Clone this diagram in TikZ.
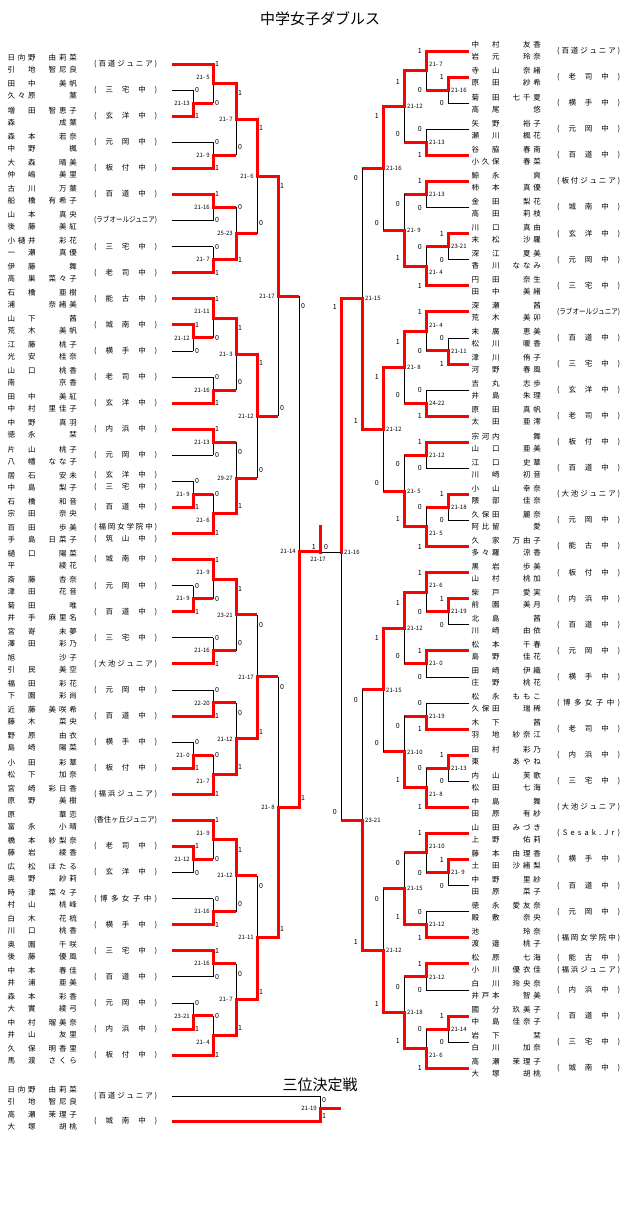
\documentclass[tikz,border=0pt]{standalone}
\usepackage{fontspec}
\setmainfont{Noto Sans CJK JP}
\usepackage{graphicx}

% character slots for the player names
\newcounter{mt}
\newcommand\chslot[1]{\makebox[10.29pt]{#1}}
\def\sprch#1#2{\chslot{#1}\ifx#2\relax\else\hfill\expandafter\sprch\expandafter#2\fi}
\def\sprnat#1#2{#1\ifx#2\relax\else\hfill\expandafter\sprnat\expandafter#2\fi}
\def\fixch#1#2{\chslot{#1}\ifx#2\relax\else\expandafter\fixch\expandafter#2\fi}
\newcommand\pname[2]{\hbox to 72pt{\hbox to 30.86pt{\sprch#1\relax\hfil}\hfil\fixch#2\relax}}
\newcommand\sch[1]{\setbox0\hbox{#1}\ifdim\wd0>63pt\resizebox{63pt}{\height}{#1}\else\hbox to 63pt{\sprnat#1\relax}\fi}

% entry: name, y, line end, style, surname1, given1, surname2, given2, school
\newcommand\lentry[9]{%
  \node[nm,anchor=west] (#1) at (6,#2) {\pname{#5}{#6}\\\pname{#7}{#8}};
  \if\relax\detokenize{#9}\relax\else\node[nm,anchor=west] (#1s) at (94,#2) {\sch{#9}};\fi
  \draw[#4] (172,#2) -- (#3,#2);}
\newcommand\rentry[9]{%
  \node[nm,anchor=west] (#1) at (470,#2) {\pname{#5}{#6}\\\pname{#7}{#8}};
  \if\relax\detokenize{#9}\relax\else\node[nm,anchor=west] (#1s) at (557,#2) {\sch{#9}};\fi
  \draw[#4] (469,#2) -- (#3,#2);}

% match: x, next x, y top, y bottom, winner (t/b), score, label offsets, score offset
\newcommand\lmatch[9]{%
  \stepcounter{mt}%
  \pgfmathsetmacro\ym{(#3+#4)/2}%
  \draw[los] (#1,#3) -- (#1,#4);
  \if#5t\def\labA{1}\def\labB{0}\draw[winv] (#1,#3) -- (#1,\ym);
  \else\def\labA{0}\def\labB{1}\draw[winv] (#1,#4) -- (#1,\ym);\fi
  \draw[win] (#1,\ym) -- (#2,\ym);
  \node[lab,anchor=west] (a\themt) at ({#1+2},{#3+#7}) {\labA};
  \node[lab,anchor=west] (b\themt) at ({#1+2},{#4-#8}) {\labB};
  \node[sc,anchor=east] (s\themt) at ({#1-3},{\ym+(#9)}) {#6};}
\newcommand\rmatch[9]{%
  \stepcounter{mt}%
  \pgfmathsetmacro\ym{(#3+#4)/2}%
  \draw[los] (#1,#3) -- (#1,#4);
  \if#5t\def\labA{1}\def\labB{0}\draw[winv] (#1,#3) -- (#1,\ym);
  \else\def\labA{0}\def\labB{1}\draw[winv] (#1,#4) -- (#1,\ym);\fi
  \draw[win] (#1,\ym) -- (#2,\ym);
  \node[lab,anchor=east] (a\themt) at ({#1-4},{#3+#7}) {\labA};
  \node[lab,anchor=east] (b\themt) at ({#1-4},{#4-#8}) {\labB};
  \node[sc,anchor=west] (s\themt) at ({#1+3},{\ym+(#9)}) {#6};}

\tikzset{
  win/.style={draw=red,line width=3pt},
  winv/.style={win,line cap=rect},
  los/.style={draw=black,line width=0.8pt},
  nm/.style={inner sep=0,align=left,font=\fontsize{7.5}{12}\selectfont},
  lab/.style={inner sep=0,font=\fontsize{7}{7}\selectfont},
  sc/.style={inner sep=0,font=\fontsize{6}{6}\selectfont},
  ttl/.style={inner sep=0,font=\fontsize{15}{15}\selectfont}
}

\begin{document}
\begin{tikzpicture}[x=1pt,y=-1pt]
\fill[white] (0,0) rectangle (640,1205);
\useasboundingbox (0,0) rectangle (640,1205);

\node[ttl] (title) at (320,19) {中学女子ダブルス};
\node[ttl] (third) at (320,1085) {三位決定戦};

% Left block entries
\lentry{L1}{64.0}{213}{win}{日向野}{由莉菜}{引地}{智尼良}{(百道ジュニア)}
\lentry{L2}{90.1}{193}{los}{田中}{美帆}{久々原}{葉}{(三宅中)}
\lentry{L3}{116.2}{193}{win}{増田}{智恵子}{森}{成葉}{(玄洋中)}
\lentry{L4}{142.2}{213}{los}{森本}{若奈}{中野}{楓}{(元岡中)}
\lentry{L5}{168.3}{213}{win}{大森}{晴美}{仲嶋}{美里}{(板付中)}
\lentry{L6}{194.4}{213}{win}{古川}{万葉}{船橋}{有希子}{(百道中)}
\lentry{L7}{220.5}{213}{los}{山本}{真央}{後藤}{美紅}{(ラブオールジュニア)}
\lentry{L8}{246.6}{213}{los}{小樋井}{彩花}{一瀬}{真優}{(三宅中)}
\lentry{L9}{272.6}{213}{win}{伊藤}{舞}{高巣}{菜々子}{(老司中)}
\lentry{L10}{298.7}{213}{win}{石橋}{亜樹}{浦}{奈緒美}{(能古中)}
\lentry{L11}{324.8}{193}{win}{山下}{茜}{荒木}{美帆}{(城南中)}
\lentry{L12}{350.9}{193}{los}{江藤}{桃子}{光安}{桂奈}{(横手中)}
\lentry{L13}{377.0}{213}{los}{山口}{桃香}{南}{京香}{(老司中)}
\lentry{L14}{403.0}{213}{win}{田中}{美紅}{中村}{里佳子}{(玄洋中)}
\lentry{L15}{429.1}{213}{win}{中野}{真羽}{徳永}{栞}{(内浜中)}
\lentry{L16}{455.2}{213}{los}{片山}{桃子}{八幡}{なな子}{(元岡中)}
\lentry{L17}{481.3}{193}{los}{居石}{安未}{中島}{梨子}{}
\node[nm,anchor=west] (L17s) at (94,481.3) {\sch{(玄洋中)}\\\sch{(三宅中)}};
\lentry{L18}{507.4}{193}{win}{石橋}{和音}{宗田}{奈央}{(百道中)}
\lentry{L19}{533.4}{213}{win}{百田}{歩美}{手島}{日菜子}{}
\node[nm,anchor=west] (L19s) at (94,533.4) {\sch{(福岡女学院中)}\\\sch{(筑山中)}};
\lentry{L20}{559.5}{213}{win}{樋口}{陽菜}{平}{綾花}{(城南中)}
\lentry{L21}{585.6}{193}{los}{斎藤}{杏奈}{津田}{花音}{(元岡中)}
\lentry{L22}{611.7}{193}{win}{菊田}{唯}{井手}{麻里名}{(百道中)}
\lentry{L23}{637.8}{213}{los}{宮嵜}{未夢}{澤田}{彩乃}{(三宅中)}
\lentry{L24}{663.8}{213}{win}{旭}{沙子}{引民}{美空}{(大池ジュニア)}
\lentry{L25}{689.9}{213}{los}{福田}{彩花}{下園}{彩尚}{(元岡中)}
\lentry{L26}{716.0}{213}{win}{近藤}{美咲希}{藤木}{菜央}{(百道中)}
\lentry{L27}{742.1}{193}{los}{野原}{由衣}{島崎}{陽菜}{(横手中)}
\lentry{L28}{768.2}{193}{win}{小田}{彩華}{松下}{加奈}{(板付中)}
\lentry{L29}{794.2}{213}{win}{宮崎}{彩日香}{原野}{美樹}{(福浜ジュニア)}
\lentry{L30}{820.3}{213}{win}{原}{華恋}{富永}{小晴}{(香住ヶ丘ジュニア)}
\lentry{L31}{846.4}{193}{win}{橋本}{紗梨奈}{藤岩}{綾香}{(老司中)}
\lentry{L32}{872.5}{193}{los}{広松}{ほたる}{奥野}{紗莉}{(玄洋中)}
\lentry{L33}{898.6}{213}{los}{時津}{菜々子}{村山}{桃峰}{(博多女子中)}
\lentry{L34}{924.6}{213}{win}{白木}{花梳}{川口}{桃香}{(横手中)}
\lentry{L35}{950.7}{213}{win}{奥園}{千咲}{後藤}{優風}{(三宅中)}
\lentry{L36}{976.8}{213}{los}{中本}{春佳}{井浦}{亜美}{(百道中)}
\lentry{L37}{1002.9}{193}{los}{森本}{彩香}{大實}{綾弓}{(元岡中)}
\lentry{L38}{1029.0}{193}{win}{中村}{瑠美奈}{井山}{友里}{(内浜中)}
\lentry{L39}{1055.0}{213}{win}{久保}{明香里}{馬渡}{さくら}{(板付中)}

% Right block entries
\rentry{R1}{51.0}{426}{win}{中村}{友香}{岩元}{玲奈}{(百道ジュニア)}
\rentry{R2}{77.1}{448}{win}{寺山}{奈緒}{原田}{紗希}{(老司中)}
\rentry{R3}{103.2}{448}{los}{菊田}{七千夏}{高尾}{悠}{(横手中)}
\rentry{R4}{129.2}{426}{los}{矢野}{裕子}{瀬川}{楓花}{(元岡中)}
\rentry{R5}{155.3}{426}{win}{谷脇}{春南}{小久保}{春菜}{(百道中)}
\rentry{R6}{181.4}{426}{win}{鯨永}{爽}{柿本}{真優}{(板付ジュニア)}
\rentry{R7}{207.5}{426}{los}{金田}{梨花}{高田}{莉枝}{(城南中)}
\rentry{R8}{233.6}{448}{win}{川口}{真由}{末松}{沙羅}{(玄洋中)}
\rentry{R9}{259.6}{448}{los}{深江}{夏美}{香川}{ななみ}{(元岡中)}
\rentry{R10}{285.7}{426}{win}{円田}{奈生}{田中}{美緒}{(三宅中)}
\rentry{R11}{311.8}{426}{win}{深瀬}{茜}{荒木}{美卯}{(ラブオールジュニア)}
\rentry{R12}{337.9}{448}{los}{末廣}{恵美}{松川}{暖香}{(百道中)}
\rentry{R13}{364.0}{448}{win}{津川}{侑子}{河野}{春風}{(三宅中)}
\rentry{R14}{390.0}{426}{los}{吉丸}{志歩}{井島}{朱理}{(玄洋中)}
\rentry{R15}{416.1}{426}{win}{原田}{真帆}{太田}{亜澪}{(老司中)}
\rentry{R16}{442.2}{426}{win}{宗河内}{舞}{山口}{亜美}{(板付中)}
\rentry{R17}{468.3}{426}{los}{江口}{史華}{川崎}{初音}{(百道中)}
\rentry{R18}{494.4}{448}{win}{小山}{幸奈}{隈部}{佳奈}{(大池ジュニア)}
\rentry{R19}{520.4}{448}{los}{久保田}{麗奈}{阿比留}{愛}{(元岡中)}
\rentry{R20}{546.5}{426}{win}{久家}{万由子}{多々羅}{涼香}{(能古中)}
\rentry{R21}{572.6}{426}{win}{黒岩}{歩美}{山村}{桃加}{(板付中)}
\rentry{R22}{598.7}{448}{win}{柴戸}{愛実}{前園}{美月}{(内浜中)}
\rentry{R23}{624.8}{448}{los}{北島}{茜}{川崎}{由依}{(百道中)}
\rentry{R24}{650.8}{426}{win}{松本}{千春}{島野}{佳花}{(元岡中)}
\rentry{R25}{676.9}{426}{los}{田崎}{伊織}{庄野}{桃花}{(横手中)}
\rentry{R26}{703.0}{426}{los}{松永}{ももこ}{久保田}{瑞稀}{(博多女子中)}
\rentry{R27}{729.1}{426}{win}{木下}{茜}{羽地}{紗奈江}{(老司中)}
\rentry{R28}{755.2}{448}{win}{田村}{彩乃}{東}{あやね}{(内浜中)}
\rentry{R29}{781.2}{448}{los}{内山}{芙歌}{松田}{七海}{(三宅中)}
\rentry{R30}{807.3}{426}{win}{中島}{舞}{田原}{有紗}{(大池ジュニア)}
\rentry{R31}{833.4}{426}{win}{山田}{みづき}{上野}{佑莉}{(Sesak. Jr)}
\rentry{R32}{859.5}{448}{win}{藤本}{由理香}{土田}{沙緒梨}{(横手中)}
\rentry{R33}{885.6}{448}{los}{中野}{里紗}{田原}{菜子}{(百道中)}
\rentry{R34}{911.6}{426}{los}{徳永}{愛友奈}{殿敷}{奈央}{(元岡中)}
\rentry{R35}{937.7}{426}{win}{池}{玲奈}{渡邉}{桃子}{(福岡女学院中)}
\rentry{R36}{963.8}{426}{win}{松原}{七海}{小川}{優衣佳}{}
\node[nm,anchor=west] (R36s) at (557,963.8) {\sch{(能古中)}\\\sch{(福浜ジュニア)}};
\rentry{R37}{989.9}{426}{los}{白川}{玲央奈}{井戸本}{智美}{(内浜中)}
\rentry{R38}{1016.0}{448}{win}{國分}{玖美子}{中島}{佳奈子}{(百道中)}
\rentry{R39}{1042.0}{448}{los}{岩下}{栞}{白川}{加奈}{(三宅中)}
\rentry{R40}{1068.1}{426}{win}{高瀬}{茉理子}{大塚}{胡桃}{(城南中)}

% Left bracket
\lmatch{193}{213}{90.1}{116.2}{b}{21-13}{0}{0}{0}
\lmatch{193}{213}{324.8}{350.9}{t}{21-12}{0}{0}{0}
\lmatch{193}{213}{481.3}{507.4}{b}{21- 9}{0}{0}{0}
\lmatch{193}{213}{585.6}{611.7}{b}{21- 9}{0}{0}{0}
\lmatch{193}{213}{742.1}{768.2}{b}{21- 0}{0}{0}{0}
\lmatch{193}{213}{846.4}{872.5}{t}{21-12}{0}{0}{0}
\lmatch{193}{213}{1002.9}{1029.0}{b}{23-21}{0}{0}{0}

\lmatch{213}{236}{64.0}{103.15}{t}{21- 5}{0}{0}{-6.5}
\lmatch{213}{236}{142.2}{168.3}{b}{21- 9}{0}{0}{0}
\lmatch{213}{236}{194.4}{220.5}{t}{21-16}{0}{0}{0}
\lmatch{213}{236}{246.6}{272.6}{b}{21- 7}{0}{0}{0}
\lmatch{213}{236}{298.7}{337.85}{t}{21-11}{0}{0}{-6.5}
\lmatch{213}{236}{377.0}{403.0}{b}{21-16}{0}{0}{0}
\lmatch{213}{236}{429.1}{455.2}{t}{21-13}{0}{0}{0}
\lmatch{213}{236}{494.35}{533.4}{b}{21- 6}{0}{0}{6.5}
\lmatch{213}{236}{559.5}{598.65}{t}{21- 9}{0}{0}{-6.5}
\lmatch{213}{236}{637.8}{663.8}{b}{21-16}{0}{0}{0}
\lmatch{213}{236}{689.9}{716.0}{b}{22-20}{0}{0}{0}
\lmatch{213}{236}{755.15}{794.2}{b}{21- 7}{0}{0}{6.5}
\lmatch{213}{236}{820.3}{859.45}{t}{21- 9}{0}{0}{-6.5}
\lmatch{213}{236}{898.6}{924.6}{b}{21-16}{0}{0}{0}
\lmatch{213}{236}{950.7}{976.8}{t}{21-16}{0}{0}{0}
\lmatch{213}{236}{1015.95}{1055.0}{b}{21- 4}{0}{0}{6.5}

\lmatch{236}{257}{83.6}{155.25}{t}{21- 7}{9}{8}{0}
\lmatch{236}{257}{207.45}{259.6}{b}{25-23}{0}{0}{0}
\lmatch{236}{257}{318.3}{390.0}{t}{21- 3}{10}{8}{0}
\lmatch{236}{257}{442.15}{513.9}{b}{29-27}{10}{8}{0}
\lmatch{236}{257}{579.1}{650.8}{t}{23-21}{10}{8}{0}
\lmatch{236}{257}{702.95}{774.7}{b}{21-12}{10}{8}{0}
\lmatch{236}{257}{839.9}{911.6}{t}{21-12}{10}{8}{0}
\lmatch{236}{257}{963.75}{1035.5}{b}{21- 7}{10}{8}{0}

\lmatch{257}{278}{119.4}{233.5}{t}{21- 6}{9}{10}{0}
\lmatch{257}{278}{354.15}{478.0}{t}{21-12}{9}{8}{0}
\lmatch{257}{278}{614.95}{738.8}{b}{21-17}{10}{7}{0}
\lmatch{257}{278}{875.75}{999.6}{b}{21-11}{10}{8}{0}

\lmatch{278}{299}{176.45}{416.1}{t}{21-17}{10}{8}{0}
\lmatch{278}{299}{676.9}{937.7}{b}{21- 8}{10}{9}{0}

\lmatch{299}{320}{296.3}{807.3}{b}{21-14}{10}{9}{0}

% Right bracket
\rmatch{448}{426}{77.1}{103.2}{t}{21-16}{0}{0}{0}
\rmatch{448}{426}{233.6}{259.6}{t}{23-21}{0}{0}{0}
\rmatch{448}{426}{337.9}{364.0}{b}{21-11}{0}{0}{0}
\rmatch{448}{426}{494.4}{520.4}{t}{21-18}{0}{0}{0}
\rmatch{448}{426}{598.7}{624.8}{t}{21-19}{0}{0}{0}
\rmatch{448}{426}{755.2}{781.2}{t}{21-13}{0}{0}{0}
\rmatch{448}{426}{859.5}{885.6}{t}{21- 9}{0}{0}{0}
\rmatch{448}{426}{1016.0}{1042.0}{t}{21-14}{0}{0}{0}

\rmatch{426}{404}{51.0}{90.15}{t}{21- 7}{0}{0}{-6.5}
\rmatch{426}{404}{129.2}{155.3}{b}{21-13}{0}{0}{0}
\rmatch{426}{404}{181.4}{207.5}{t}{21-13}{0}{0}{0}
\rmatch{426}{404}{246.6}{285.7}{b}{21- 4}{0}{0}{6.5}
\rmatch{426}{404}{311.8}{350.95}{t}{21- 4}{0}{0}{-6.5}
\rmatch{426}{404}{390.0}{416.1}{b}{24-22}{0}{0}{0}
\rmatch{426}{404}{442.2}{468.3}{t}{21-12}{0}{0}{0}
\rmatch{426}{404}{507.4}{546.5}{b}{21- 5}{0}{0}{6.5}
\rmatch{426}{404}{572.6}{611.75}{t}{21- 6}{0}{0}{-6.5}
\rmatch{426}{404}{650.8}{676.9}{t}{21- 0}{0}{0}{0}
\rmatch{426}{404}{703.0}{729.1}{b}{21-19}{0}{0}{0}
\rmatch{426}{404}{768.2}{807.3}{b}{21- 8}{0}{0}{6.5}
\rmatch{426}{404}{833.4}{872.55}{t}{21-10}{0}{0}{-6.5}
\rmatch{426}{404}{911.6}{937.7}{b}{21-12}{0}{0}{0}
\rmatch{426}{404}{963.8}{989.9}{t}{21-12}{0}{0}{0}
\rmatch{426}{404}{1029.0}{1068.1}{b}{21- 6}{0}{0}{6.5}

\rmatch{404}{383}{70.6}{142.25}{t}{21-12}{11}{8}{0}
\rmatch{404}{383}{194.45}{266.15}{b}{21- 9}{10}{8}{0}
\rmatch{404}{383}{331.4}{403.05}{t}{21- 8}{11}{8}{0}
\rmatch{404}{383}{455.25}{526.95}{b}{21- 5}{9}{8}{0}
\rmatch{404}{383}{592.2}{663.85}{t}{21-12}{11}{8}{0}
\rmatch{404}{383}{716.05}{787.75}{b}{21-10}{10}{8}{0}
\rmatch{404}{383}{853.0}{924.65}{b}{21-15}{10}{8}{0}
\rmatch{404}{383}{976.85}{1048.55}{b}{21-18}{10}{8}{0}

\rmatch{383}{362}{106.4}{230.3}{t}{21-16}{10}{7}{0}
\rmatch{383}{362}{367.2}{491.1}{t}{21-12}{10}{8}{0}
\rmatch{383}{362}{628.0}{751.9}{t}{21-15}{10}{9}{0}
\rmatch{383}{362}{888.8}{1012.7}{b}{21-12}{10}{9}{0}

\rmatch{362}{341}{168.35}{429.15}{b}{21-15}{10}{8}{0}
\rmatch{362}{341}{689.95}{950.75}{b}{23-21}{10}{9}{0}

% Right semifinal, winner loses the final
\draw[los] (341,298.75) -- (341,820.35);
\draw[winv] (341,298.75) -- (341,552);
\node[lab,anchor=east] (rsa) at (337,306.75) {1};
\node[lab,anchor=east] (rsb) at (337,812.35) {0};
\node[sc,anchor=west] (rss) at (344,552) {21-16};
\draw[los] (341,552) -- (320,552);

% Final
\draw[winv] (320,552) -- (320,526);
\node[lab,anchor=east] (fa) at (316,547) {1};
\node[lab,anchor=west] (fb) at (324,547) {0};
\node[sc] (fs) at (318,559) {21-17};

% Third place
\lentry{T1}{1096}{320}{los}{日向野}{由莉菜}{引地}{智尼良}{(百道ジュニア)}
\lentry{T2}{1121}{320}{win}{高瀬}{茉理子}{大塚}{胡桃}{(城南中)}
\lmatch{320}{341}{1096}{1121}{b}{21-19}{4}{5}{0}

\end{tikzpicture}
\end{document}
